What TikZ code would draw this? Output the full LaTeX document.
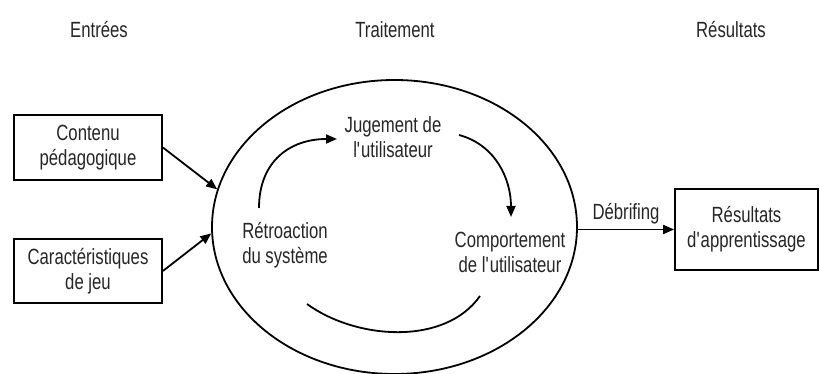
\documentclass[tikz,border=0pt]{standalone}
\usepackage{fontspec}
\setmainfont[FakeStretch=0.76]{Liberation Sans}
\usetikzlibrary{arrows.meta,shapes.geometric}
\newcommand{\sq}{\textquotesingle}
\tikzset{
  txt/.style={font=\fontsize{22pt}{25pt}\selectfont, text=black!85, align=center, inner sep=0pt},
  boxnode/.style={draw, line width=1.8pt, txt, minimum width=148pt},
  arr/.style={line width=1.8pt, -{Triangle[length=11pt,width=9pt]}},
  line/.style={line width=1.8pt},
}
\begin{document}
\begin{tikzpicture}[x=1pt,y=1pt]
\useasboundingbox (0,0) rectangle (820,374);
% titles
\node[txt] (t1) at (99,344) {Entrées};
\node[txt] (t2) at (395,344) {Traitement};
\node[txt] (t3) at (731,344) {Résultats};
% boxes
\node[boxnode, minimum height=65pt] (cp) at (88,226.5) {Contenu\\pédagogique};
\node[boxnode, minimum height=64pt] (cj) at (88,103) {Caractéristiques\\de jeu};
\node[boxnode, minimum width=143pt, minimum height=81pt] (ra) at (746.5,144.5) {Résultats\\d\sq apprentissage};
% ellipse
\node[draw, line width=1.8pt, ellipse, minimum width=365pt, minimum height=294pt, inner sep=0pt] (proc) at (394.5,147) {};
% inner texts
\node[txt] (jug) at (393,236.5) {Jugement de\\l\sq utilisateur};
\node[txt] (ret) at (285,128.5) {Rétroaction\\du système};
\node[txt] (com) at (510,121.5) {Comportement\\de l\sq utilisateur};
% arcs
\coordinate (a1s) at (259,166);
\coordinate (a1e) at (337,235);
\coordinate (a2s) at (459,239);
\coordinate (a2e) at (511,157);
\coordinate (a3s) at (307,70);
\coordinate (a3e) at (480,78);
\draw[arr] (a1s) to[out=90,in=180,looseness=1.15] (a1e);
\draw[arr] (a2s) to[out=-15,in=90] (a2e);
\draw[line] (a3s) to[out=-36,in=-125,looseness=0.9] (a3e);
% input arrows
\draw[arr] (cp.east) -- (proc.168);
\draw[arr] (cj.east) -- (proc.182);
% output
\draw[arr] (proc.east |- ra.west) -- node[txt, above=5pt] (deb) {Débrifing} (ra.west);
\end{tikzpicture}
\end{document}
